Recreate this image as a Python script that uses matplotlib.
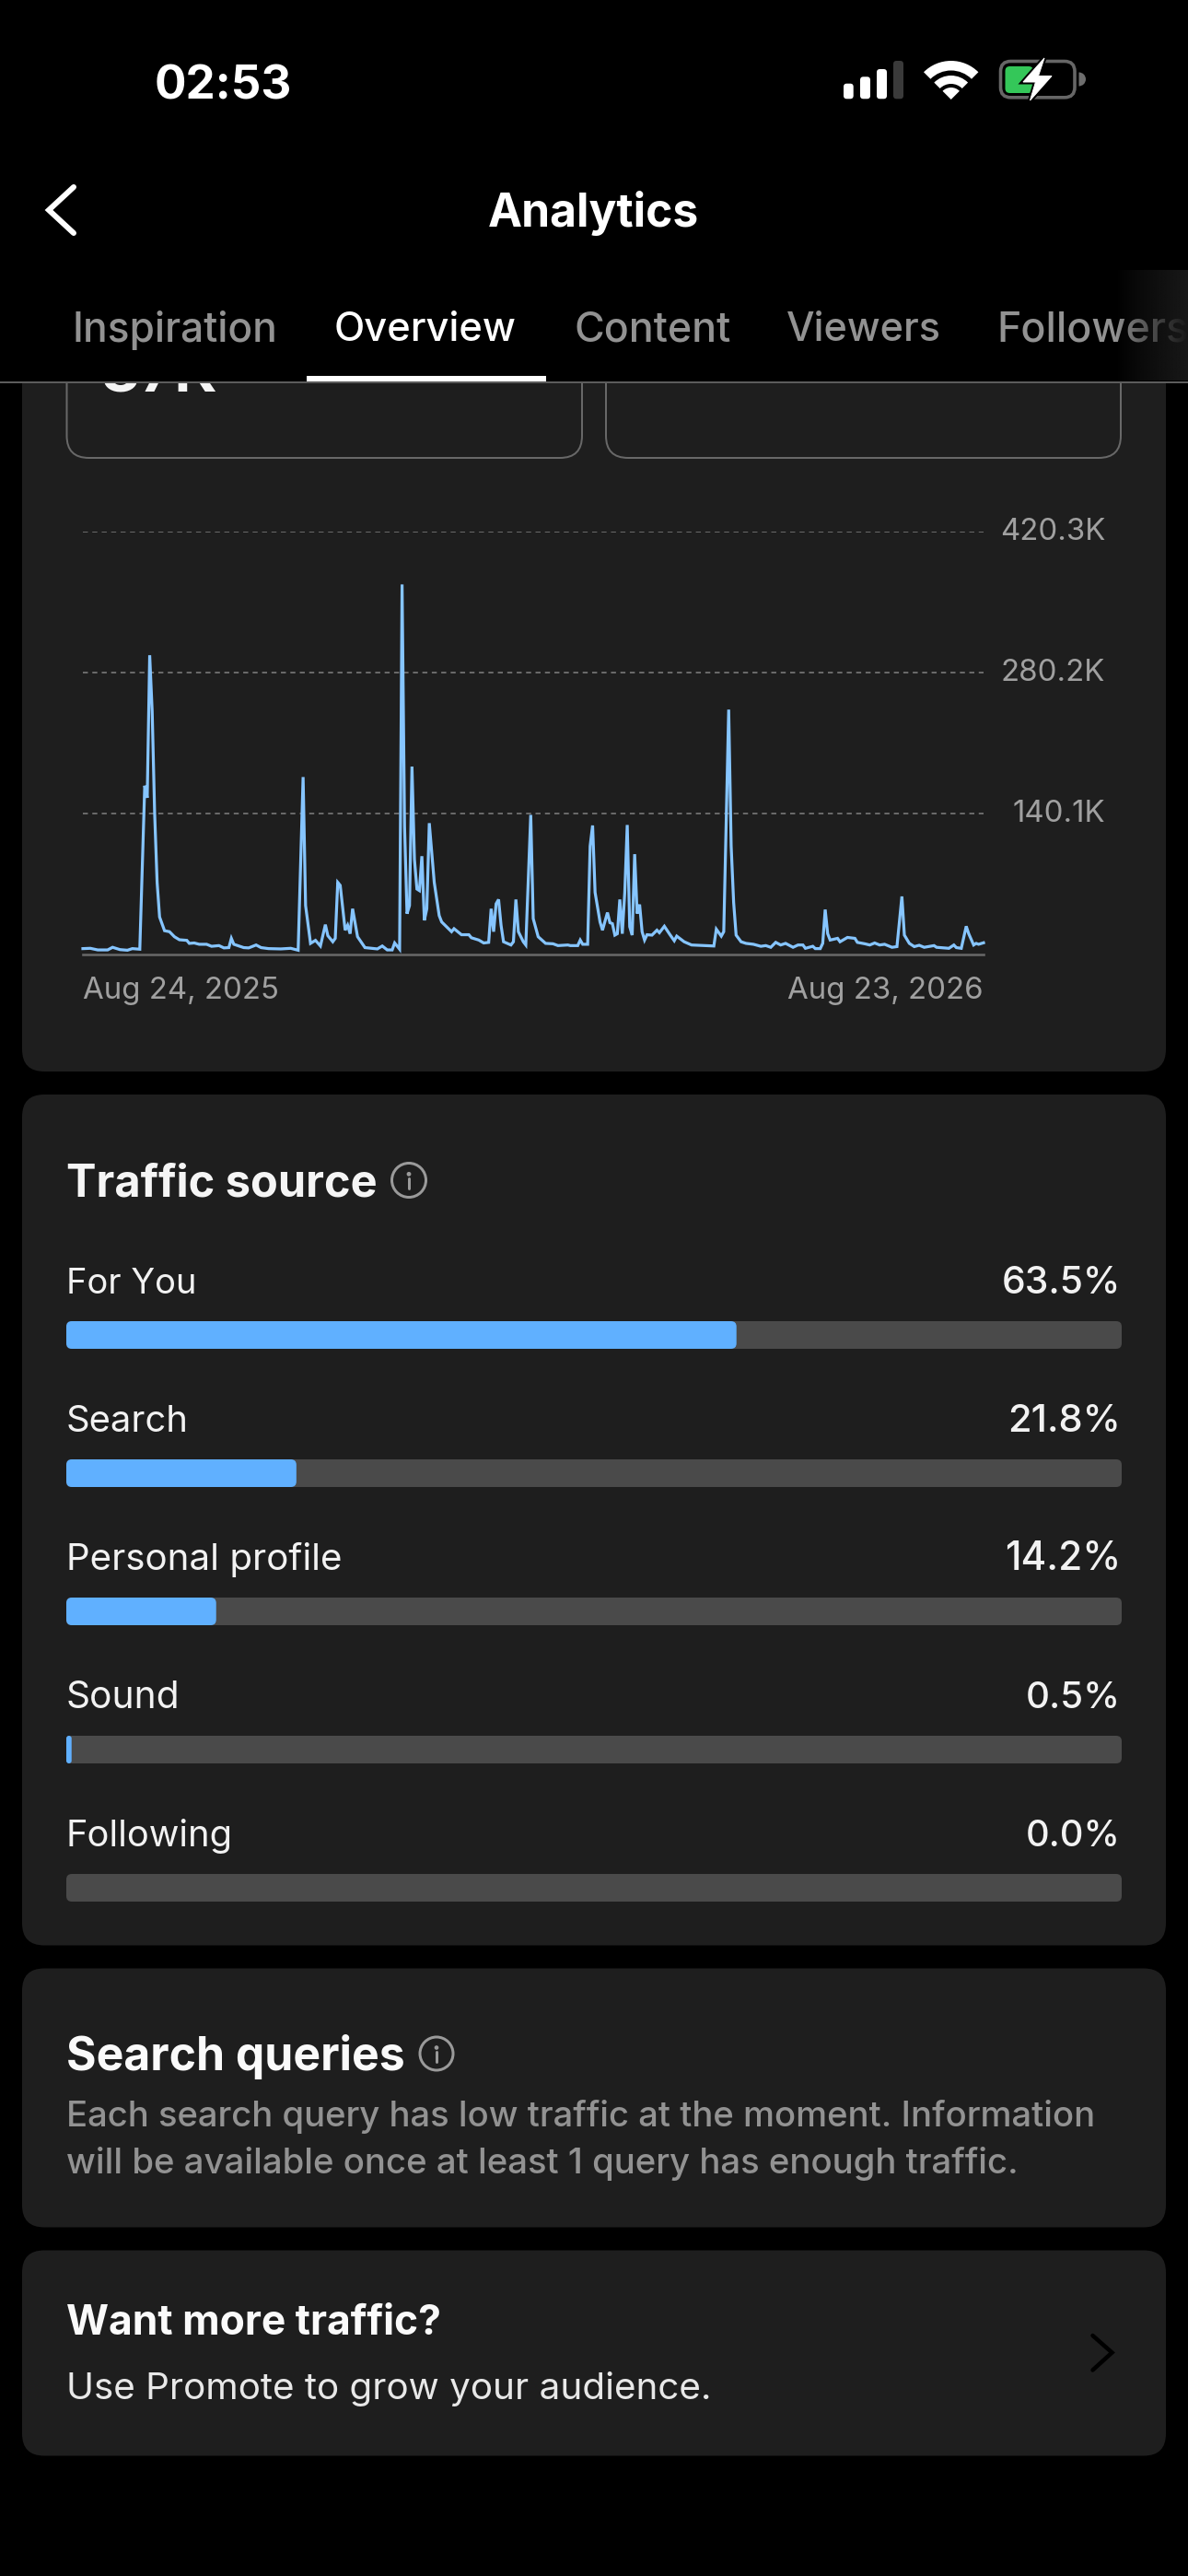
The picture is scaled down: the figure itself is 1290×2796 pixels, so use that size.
import matplotlib
matplotlib.use("Agg")
import matplotlib.pyplot as plt
import numpy as np
from matplotlib.patches import FancyBboxPatch, Rectangle, Circle, Wedge, Polygon
from matplotlib.transforms import ScaledTranslation

# ---------- data ----------
days = [
    0, 3, 6, 10, 12, 15, 18, 20, 23, 25, 26, 27,
    28, 29, 30, 31, 33, 35, 37, 39, 42, 43, 45, 47,
    50, 52, 55, 57, 59, 60, 61, 65, 67, 70, 72, 75,
    80, 84, 87, 89, 90, 92, 94, 96, 98, 99, 101, 102,
    103, 104, 106, 107, 108, 109, 111, 114, 119, 121, 123, 125,
    126, 128, 129, 130, 131, 132, 133, 134, 135, 136, 137, 138,
    139, 140, 142, 144, 145, 147, 149, 150, 153, 156, 157, 160,
    162, 164, 165, 166, 167, 168, 169, 170, 173, 174, 175, 176,
    178, 179, 181, 182, 184, 187, 190, 192, 196, 197, 200, 201,
    202, 204, 205, 206, 207, 209, 210, 212, 213, 214, 215, 216,
    217, 218, 219, 220, 221, 222, 223, 224, 225, 226, 227, 228,
    230, 232, 233, 235, 237, 239, 240, 243, 246, 252, 255, 256,
    258, 259, 261, 262, 263, 264, 266, 268, 271, 274, 276, 278,
    280, 282, 284, 287, 289, 291, 292, 295, 296, 298, 299, 300,
    301, 302, 305, 306, 309, 312, 313, 316, 318, 320, 322, 324,
    327, 329, 331, 332, 334, 336, 338, 340, 344, 345, 350, 352,
    353, 355, 357, 358, 360, 361, 362, 364,
]
views_k = [
    6.2, 6.5, 4.9, 4.9, 7.5, 5.2, 4.6, 6.2, 5.6, 168, 156, 297.6,
    242, 140.6, 72, 37.6, 24, 23, 18, 15, 14.4, 11.4, 11.8, 10.5,
    10.5, 8.5, 9.2, 6.9, 7.2, 16.4, 10.5, 7.2, 6.9, 9.8, 7.2, 6.2,
    5.9, 6.5, 4.6, 176.6, 49, 11.4, 14.4, 8.8, 30, 19, 13, 16.4,
    72, 69, 24.5, 29.4, 21, 45.8, 18, 7.2, 5.9, 8.8, 4.9, 4.9,
    11.8, 5.6, 367.9, 127.5, 40.9, 49, 187, 94.8, 65.4, 63.8, 98, 34.3,
    45.8, 130.8, 72, 39, 32.7, 27.8, 23, 26, 20, 20, 17, 14.7,
    11.8, 12.4, 45.8, 23, 50.7, 55, 29.4, 13, 9.8, 13, 55, 23,
    13, 9.8, 139, 36, 18, 11.4, 11, 9.2, 9.8, 9.2, 9.2, 14.7,
    10.5, 10.5, 108, 128.5, 62, 32.7, 24.5, 42, 32, 31, 19.6, 21,
    55, 21, 62, 129, 28, 19.6, 100, 41, 50, 23, 14.7, 20,
    19.6, 24.5, 22, 28.4, 21, 14, 18.6, 13, 9.8, 9.2, 8.8, 25.5,
    18.6, 23, 243.6, 108, 52, 19.6, 13, 11.4, 10.5, 8.5, 9.2, 7.5,
    12.4, 9.8, 11.4, 7.5, 9.8, 9.8, 6.5, 8.5, 6.2, 6.2, 11.4, 45,
    21, 14.7, 16.4, 13, 17.3, 16.4, 12.4, 11, 9.8, 11.8, 9.8, 10.5,
    7.5, 8.2, 58, 19.6, 11.4, 8.2, 9.5, 7.5, 9.2, 7.5, 6.5, 9.8,
    7.2, 6.5, 28.4, 21, 9.8, 11.4, 10.5, 12,
]
y_ticks = [140.1, 280.2, 420.3]
y_tick_labels = ["140.1K", "280.2K", "420.3K"]
x_ticks = [0, 364]
x_tick_labels = ["Aug 24, 2025", "Aug 23, 2026"]

sources = ["For You", "Search", "Personal profile", "Sound", "Following"]
shares = [63.5, 21.8, 14.2, 0.5, 0.0]

tabs = ["Inspiration", "Overview", "Content", "Viewers", "Followers"]

# ---------- setup ----------
W, H = 1290, 2796
plt.rcParams["font.family"] = ["Inter", "DejaVu Sans"]
fig = plt.figure(figsize=(W / 100, H / 100), dpi=100, facecolor="black")
PX = 0.72

ui = fig.add_axes([0, 0, 1, 1], zorder=0)
ui.set_xlim(0, W)
ui.set_ylim(H, 0)
ui.axis("off")

CARD = "#1e1e1e"
BLUE = "#60b0ff"
TRACK = "#4a4a4a"
GREY = "#929292"


def axes_px(x0, y0, x1, y1, **kw):
    return fig.add_axes([x0 / W, 1 - y1 / H, (x1 - x0) / W, (y1 - y0) / H], **kw)


def round_box(x0, y0, x1, y1, r, fc="none", ec="none", lw=0, z=1):
    p = FancyBboxPatch((x0 + r, y0 + r), x1 - x0 - 2 * r, y1 - y0 - 2 * r,
                       boxstyle=f"round,pad={r},rounding_size={r}",
                       fc=fc, ec=ec, lw=lw, zorder=z, transform=ui.transData)
    return p


def T(x, y, s, width=None, size=40, weight="normal", color="white", ha="left", z=5):
    t = ui.text(x, y, s, fontsize=size * PX, fontweight=weight, color=color,
                ha=ha, va="baseline", zorder=z)
    if width is not None:
        r = fig.canvas.get_renderer()
        w = t.get_window_extent(r).width
        t.set_fontsize(t.get_fontsize() * width / w)
    return t


def chevron(pts, color, lw, z=6):
    xs, ys = zip(*pts)
    ui.plot(xs, ys, color=color, lw=lw * PX, solid_capstyle="round",
            solid_joinstyle="miter", zorder=z)


def info(cx, cy, r):
    ui.add_patch(Circle((cx, cy), r, fc="none", ec="#9a9a9a", lw=3 * PX, zorder=5))
    ui.add_patch(Circle((cx, cy - r * 0.36), r * 0.13, fc="#9a9a9a", ec="none", zorder=5))
    ui.plot([cx, cx], [cy - r * 0.1, cy + r * 0.5], color="#9a9a9a", lw=3 * PX,
            solid_capstyle="round", zorder=5)


# ---------- cards ----------
ui.add_patch(round_box(24, 300, 1266, 1163, 24, fc=CARD))
ui.add_patch(round_box(24, 1188, 1266, 2111.5, 24, fc=CARD))
ui.add_patch(round_box(24, 2136.5, 1266, 2417.5, 24, fc=CARD))
ui.add_patch(round_box(24, 2442.5, 1266, 2665.5, 24, fc=CARD))
ui.add_patch(round_box(72.5, 300, 632, 497, 24, ec="#686868", lw=2 * PX, z=2))
ui.add_patch(round_box(658, 300, 1217, 497, 24, ec="#686868", lw=2 * PX, z=2))
T(110, 426, "87K", width=126, size=60, weight="bold", color="#f5f5f5", z=3)

# ---------- header ----------
ui.add_patch(Rectangle((0, 0), W, 414, fc="black", ec="none", zorder=4))
ui.add_patch(Rectangle((0, 414), W, 1.6, fc="#5c5c5c", ec="none", zorder=5))
T(167.5, 107, "02:53", width=149, size=53, weight="bold")
T(529.5, 246, "Analytics", width=229, size=48, weight="bold")
chevron([(80, 203), (53, 228), (80, 253)], "white", 6)

tab_x = [(78.5, 223), (363, 198), (623.5, 170), (854, 168), (1082, 208)]
for name, (tx, tw) in zip(tabs, tab_x):
    T(tx, 370.5, name, width=tw, size=43, weight="medium",
      color="white" if name == "Overview" else GREY)
ui.add_patch(Rectangle((333, 408), 260, 6, fc="white", ec="none", zorder=6))

grad = np.zeros((1, 80, 4))
grad[..., :3] = 0x18 / 255
grad[..., 3] = np.linspace(0, 1, 80) ** 0.8
ui.imshow(grad, extent=(1212, 1290, 413, 293), aspect="auto", zorder=7)
ui.set_xlim(0, W)
ui.set_ylim(H, 0)

# status icons
for x0, x1, top, c in [(916, 926.7, 90.7, "white"), (934, 945, 83.3, "white"),
                       (952, 963, 75, "white"), (970, 981, 66, "#3a3a3a")]:
    ui.add_patch(round_box(x0, top, x1, 107.3, 3.5, fc=c, z=6))
wc, wy = 1032.7, 108
for r_out, width in [(42, 10.5), (26, 9), (13, 13)]:
    ui.add_patch(Wedge((wc, wy), r_out, 225, 315, width=width, fc="white", ec="none", zorder=6))
ui.add_patch(round_box(1086.5, 66.5, 1167, 105.8, 11, ec="#666666", lw=3.6 * PX, z=6))
ui.add_patch(round_box(1091.5, 72, 1122, 101, 5, fc="#34c759", z=6))
ui.add_patch(Wedge((1171.5, 86), 7.5, -90, 90, fc="#6e6e6e", ec="none", zorder=6))
bolt = [(1134, 63), (1111, 89), (1124.5, 89), (1118.5, 109), (1142, 82.5), (1127.5, 82.5)]
ui.add_patch(Polygon(bolt, closed=True, fc="black", ec="black", lw=5 * PX, zorder=7))
ui.add_patch(Polygon(bolt, closed=True, fc="white", ec="white", lw=1 * PX, zorder=8))

# ---------- line chart ----------
ax = axes_px(90, 577.1, 1068, 1036.4, zorder=2)
ax.patch.set_alpha(0)
ax.set_xlim(0, 364)
ax.set_ylim(0, 420.3)
for s in ["top", "left", "right"]:
    ax.spines[s].set_visible(False)
ax.spines["bottom"].set_color("#666666")
ax.spines["bottom"].set_linewidth(2.6 * PX)
ax.plot(days, views_k, color="#86c5ff", lw=3.2 * PX, solid_joinstyle="miter", zorder=3, clip_on=False)
ax.yaxis.tick_right()
ax.set_yticks(y_ticks, y_tick_labels)
ax.set_xticks(x_ticks, x_tick_labels)
ax.tick_params(axis="y", length=0, pad=132 * PX, labelsize=33 * PX, labelcolor="#a0a0a0")
ax.tick_params(axis="x", length=0, pad=24 * PX, labelsize=33 * PX, labelcolor="#a0a0a0")
ax.grid(axis="y", color="#7c7c7c", lw=1.6 * PX, dashes=(3.4, 3), zorder=1)
for tick in ax.yaxis.get_major_ticks():
    tick.label2.set_ha("right")
    tick.label2.set_va("baseline")
    tick.label2.set_transform(tick.label2.get_transform() +
                              ScaledTranslation(0, -8.5 / 100, fig.dpi_scale_trans))
xl = ax.get_xticklabels()
xl[0].set_ha("left")
xl[1].set_ha("right")

# ---------- traffic bars ----------
T(71.5, 1298.3, "Traffic source", width=338, size=48, weight="bold", color="#f5f5f5")
info(444, 1281, 18.5)

bx = axes_px(72, 1434, 1218, 2064, zorder=2)
bx.patch.set_alpha(0)
bx.axis("off")
bx.set_xlim(0, 100)
bx.set_ylim(4.1, -0.1)
ypos = np.arange(len(sources))
tracks = bx.barh(ypos, [100] * len(sources), height=0.2, color=TRACK, zorder=1)
fills = bx.barh(ypos, shares, height=0.2, color=BLUE, zorder=2)
fig.canvas.draw()
inv = ui.transData.inverted()
for group in (tracks, fills):
    for b in group:
        (x0, y0), (x1, y1) = inv.transform(b.get_window_extent().get_points())
        if abs(x1 - x0) < 0.5:
            continue
        r = min(6, abs(x1 - x0) / 2)
        b.set_clip_path(round_box(x0, min(y0, y1), x1, max(y0, y1), r))

label_w = [142, 133, 299.5, 124, 181.5]
pct_w = [129.5, 123, 126.5, 103, 103]
for i, (name, v) in enumerate(zip(sources, shares)):
    base = 1404 + 150 * i
    T(71.5, base, name, width=label_w[i], size=40, color="#f2f2f2")
    T(1217, base, f"{v:.1f}%", width=pct_w[i], size=40, weight="medium", color="#f2f2f2", ha="right")

# ---------- text cards ----------
T(71.5, 2247, "Search queries", width=367, size=48, weight="bold", color="#fafafa")
info(474, 2229, 18)
T(71.5, 2307.5, "Each search query has low traffic at the moment. Information",
  width=1118, size=38, weight="medium", color=GREY)
T(71.5, 2358.7, "will be available once at least 1 query has enough traffic.",
  width=1035, size=38, weight="medium", color=GREY)
T(71.5, 2534, "Want more traffic?", width=407, size=44, weight="bold", color="#fafafa")
T(71.5, 2604.5, "Use Promote to grow your audience.", width=701.5, size=40, color="#e8e8e8")
chevron([(1186.5, 2535), (1207.5, 2553.5), (1186.5, 2572.5)], "black", 4.5)

fig.savefig("out.png", dpi=100, facecolor="black")
